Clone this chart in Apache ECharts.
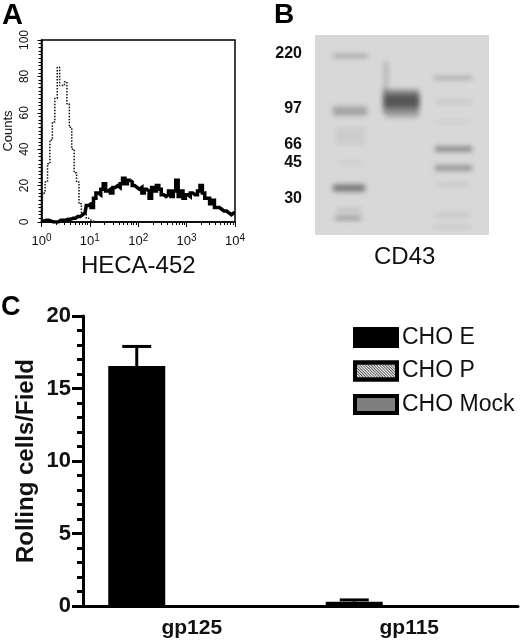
<!DOCTYPE html>
<html><head><meta charset="utf-8">
<script src="https://cdn.jsdelivr.net/npm/echarts@6/dist/echarts.min.js"></script>
<style>html,body{margin:0;padding:0;background:#fff}#c{width:520px;height:642px}</style></head>
<body><div id="c"></div>
<script>
// Panel A: flow-cytometry histogram
const channels = [1,1.12,1.26,1.41,1.58,1.78,2,2.24,2.51,2.82,3.16,3.55,3.98,4.47,5.01,5.62,6.31,7.08,7.94,8.91,
 10,11.2,12.6,14.1,15.8,17.8,20,22.4,25.1,28.2,31.6,35.5,39.8,44.7,50.1,56.2,63.1,70.8,79.4,89.1,
 100,112,126,141,158,178,200,224,251,282,316,355,398,447,501,562,631,708,794,891,
 1000,1120,1260,1410,1580,1780,2000,2240,2510,2820,3160,3550,3980,4470,5010,5620,6310,7080,7940,8910,10000];
const heca452 = [0.5,0.5,1,1,0.5,0,0,0,1,1,1,1.5,1.5,2,2,3,3,4,5,9,
 10,8,13,16,15,18,21,17,18,16,19,20,19,21,24,21,23,22,20,19,
 18,19,16,18,17,13,19,17,20,18,15,14,15,17,14,17,23,14,17,13,
 15,14,16,15,15,17,20,16,13,13,10,12,8,8,7,6,6,5,4,5,5];
const isotype = [0,16,22,32,45,55,68,85,75,75,77,65,52,40,27,22,10,5,4,2,1,0.5,0,0,0];
const countTicks = [0,20,40,60,80,100];

// Panel B: blot
const mwLabels = ['220','97','66','45','30'];
const mwPositions = [19,74,110,128,164];
// lane start, lane end, migration, thickness, darkness
const blotBands = [
 [18,52,21,3,0.38],[18,52,76,9,0.3],[20,50,95,3,0.11],[20,50,101,3,0.11],[20,50,107,3,0.11],[24,48,128,3,0.07],
 [18,50,153,7,0.55],[22,46,175,3,0.18],[20,46,183,4,0.36],
 [69,73,42,30,0.22],[68,104,66,25,0.42],[69,104,66,13,0.55],[71,103,80,6,0.22],
 [119,157,43,2,0.45],[121,157,67,3,0.12],[123,154,87,3,0.07],[120,157,114,5,0.48],[120,157,133,5,0.42],
 [122,155,150,3,0.12],[120,155,180,4,0.1],[118,156,192,3,0.1]
];

// Panel C: rolling assay
const categories = ['gp125','gp115'];
const seriesNames = ['CHO E','CHO P','CHO Mock'];
const choE = [16.55,0.3];
const choP = [0,0];
const choMock = [0,0];
const choEError = [17.9,0.42];

const FONT = 'Liberation Sans';
const barW = 57;
const barStep = 55;
const frame = {lineStyle:{color:'#000',width:1.5}};
const hatch = {symbol:'rect',color:'#555',dashArrayX:[1,0],dashArrayY:[1,1],rotation:Math.PI/4};

const chart = echarts.init(document.getElementById('c'), null, {renderer:'canvas'});
chart.setOption({
 animation:false,
 backgroundColor:'#fff',
 textStyle:{fontFamily:FONT},
 title:[
  {text:'A',left:-3,top:-4,textStyle:{fontFamily:FONT,fontWeight:'bold',fontSize:29,color:'#000'}},
  {text:'B',left:269,top:-4,textStyle:{fontFamily:FONT,fontWeight:'bold',fontSize:28,color:'#000'}},
  {text:'C',left:-4,top:289,textStyle:{fontFamily:FONT,fontWeight:'bold',fontSize:27,color:'#000'}},
  {text:'CD43',left:369,top:240,textStyle:{fontFamily:FONT,fontWeight:'normal',fontSize:24,color:'#111'}}
 ],
 grid:[
  {left:41.5,top:40,width:193.5,height:182,show:true,borderColor:'#000',borderWidth:1.5,backgroundColor:'#fff',outerBoundsMode:'none'},
  {left:315,top:35,width:174,height:200,show:true,borderWidth:0,backgroundColor:'#d8d8d8',outerBoundsMode:'none'},
  {left:83,top:316,width:435,height:290,show:false,outerBoundsMode:'none'}
 ],
 xAxis:[
  {gridIndex:0,type:'log',logBase:10,min:1,max:10000,
   name:'HECA-452',nameLocation:'middle',nameGap:32,nameMoveOverlap:false,
   nameTextStyle:{fontFamily:FONT,fontSize:24,color:'#111'},
   axisLine:{show:true,onZero:false,...frame},
   axisTick:{length:5,lineStyle:{color:'#000',width:1}},
   minorTick:{show:true,splitNumber:9,length:3,lineStyle:{color:'#000',width:1}},
   splitLine:{show:false},minorSplitLine:{show:false},
   axisLabel:{margin:11,hideOverlap:false,showMinLabel:true,showMaxLabel:true,
    formatter:v=>'{b|10}{s|'+Math.round(Math.log10(v))+'}',
    rich:{b:{fontFamily:FONT,fontSize:13,color:'#111'},s:{fontFamily:FONT,fontSize:10,color:'#111',padding:[0,0,7,0]}}}},
  {gridIndex:1,type:'value',min:0,max:174,show:false},
  {gridIndex:2,type:'category',data:categories,
   axisLine:{show:true,lineStyle:{color:'#000',width:3}},
   axisTick:{show:false},
   axisLabel:{margin:12,fontFamily:FONT,fontWeight:'bold',fontSize:21,color:'#111'}}
 ],
 yAxis:[
  {gridIndex:0,type:'value',min:0,max:100,interval:20,
   name:'Counts',nameLocation:'middle',nameGap:27,nameMoveOverlap:false,
   nameTextStyle:{fontFamily:FONT,fontSize:13,color:'#111'},
   axisLine:{show:true,...frame},
   axisTick:{show:true,length:4,lineStyle:{color:'#000',width:1}},
   minorTick:{show:true,splitNumber:10,length:3,lineStyle:{color:'#000',width:1}},
   splitLine:{show:false},
   axisLabel:{rotate:90,margin:11,fontFamily:FONT,fontSize:12,color:'#111',
    customValues:countTicks}},
  {gridIndex:1,type:'value',min:0,max:200,inverse:true,
   axisLine:{show:false},axisTick:{show:false},splitLine:{show:false},
   axisLabel:{margin:13,customValues:mwPositions,fontFamily:FONT,fontWeight:'bold',fontSize:16,color:'#111',
    formatter:v=>mwLabels[mwPositions.indexOf(v)]}},
  {gridIndex:2,type:'value',min:0,max:20,interval:5,
   name:'Rolling cells/Field',nameLocation:'middle',nameGap:45,nameMoveOverlap:false,
   nameTextStyle:{fontFamily:FONT,fontWeight:'bold',fontSize:24,color:'#111'},
   axisLine:{show:true,lineStyle:{color:'#000',width:3}},
   axisTick:{show:true,length:11,lineStyle:{color:'#000',width:3}},
   minorTick:{show:true,splitNumber:5,length:6,lineStyle:{color:'#000',width:3}},
   splitLine:{show:false},
   axisLabel:{margin:12,fontFamily:FONT,fontWeight:'bold',fontSize:22,color:'#111'}}
 ],
 legend:{
  left:348,top:321,orient:'vertical',itemWidth:42,itemHeight:17,itemGap:10.5,icon:'rect',
  data:seriesNames.map(n=>({name:n,itemStyle:{borderColor:'#000',borderWidth:4}})),selectedMode:false,
  textStyle:{fontFamily:FONT,fontSize:23,color:'#111'}
 },
 series:[
  {type:'line',name:'isotype',xAxisIndex:0,yAxisIndex:0,symbol:'none',step:'middle',
   data:isotype.map((v,i)=>[channels[i],v]),
   lineStyle:{color:'#111',width:1.5,type:[1.5,1.5]}},
  {type:'line',name:'HECA-452',xAxisIndex:0,yAxisIndex:0,symbol:'none',step:'middle',
   data:heca452.map((v,i)=>[channels[i],v]),
   lineStyle:{color:'#000',width:3.5,join:'miter',cap:'butt'}},
  {type:'custom',xAxisIndex:1,yAxisIndex:1,silent:true,clip:true,
   data:blotBands,
   renderItem:(p,api)=>{
    const a=api.coord([api.value(0),api.value(2)-api.value(3)/2]);
    const b=api.coord([api.value(1),api.value(2)+api.value(3)/2]);
    // the band itself sits off to the side: only its blurred shadow lands on the gel
    return {type:'rect',shape:{x:a[0]-1000,y:a[1],width:b[0]-a[0],height:b[1]-a[1]},
     style:{fill:'#000',shadowBlur:5,shadowOffsetX:1000,shadowColor:'rgba(40,40,40,'+api.value(4)+')'}};
   }},
  {type:'bar',name:seriesNames[0],xAxisIndex:2,yAxisIndex:2,data:choE,barWidth:barW,barGap:(barStep-barW)/barW*100+'%',
   itemStyle:{color:'#000'}},
  {type:'bar',name:seriesNames[1],xAxisIndex:2,yAxisIndex:2,data:choP,barWidth:barW,
   itemStyle:{color:'#fff',decal:hatch}},
  {type:'bar',name:seriesNames[2],xAxisIndex:2,yAxisIndex:2,data:choMock,barWidth:barW,
   itemStyle:{color:'#7f7f7f'}},
  {type:'custom',xAxisIndex:2,yAxisIndex:2,silent:true,z:3,
   data:choEError.map((v,i)=>[i,choE[i],v]),
   renderItem:(p,api)=>{
    const base=api.coord([api.value(0),api.value(1)]);
    const top=api.coord([api.value(0),api.value(2)]);
    const x=base[0]-barStep;
    const st={stroke:'#000',lineWidth:3};
    return {type:'group',children:[
     {type:'line',shape:{x1:x,y1:base[1],x2:x,y2:top[1]},style:st},
     {type:'line',shape:{x1:x-14.5,y1:top[1],x2:x+14.5,y2:top[1]},style:st}]};
   }}
 ]
});
</script></body></html>
